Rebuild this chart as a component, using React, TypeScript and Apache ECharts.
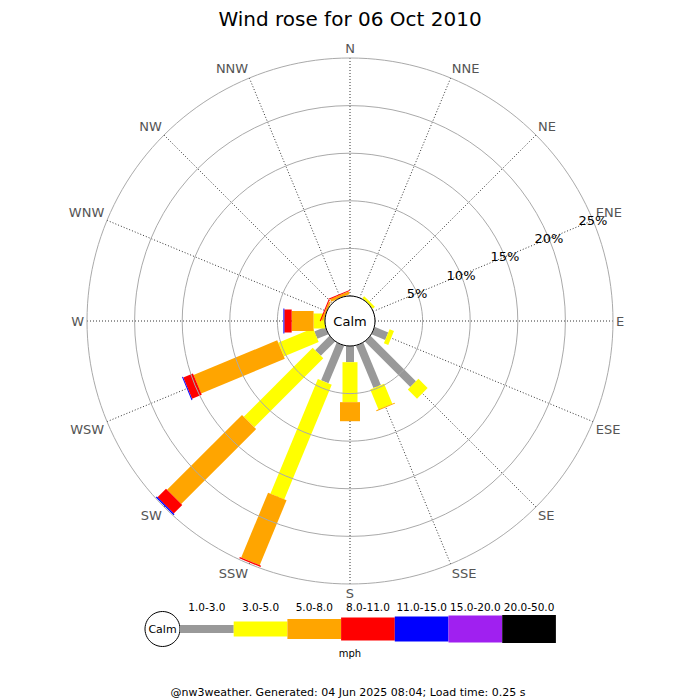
import React, { useEffect, useRef } from "react";
import * as echarts from "echarts";

const TITLE = "Wind rose for 06 Oct 2010";
const FOOTER = "@nw3weather. Generated: 04 Jun 2025 08:04; Load time: 0.25 s";
const UNIT = "mph";

// compass directions, clockwise from north
const directions = ["N", "NNE", "NE", "ENE", "E", "ESE", "SE", "SSE", "S", "SSW", "SW", "WSW", "W", "WNW", "NW", "NNW"];

// speed bins
const speedBins = ["1.0-3.0", "3.0-5.0", "5.0-8.0", "8.0-11.0", "11.0-15.0", "15.0-20.0", "20.0-50.0"];
const binColors = ["#999999", "#ffff00", "#ffa500", "#ff0000", "#0000ff", "#a020f0", "#000000"];

// percent of time per direction (order of `directions`) for each speed bin
const bin1to3 =   [0, 0, 0,    0, 0, 1.55, 6.75, 4.83, 1.7, 4.29, 2.13, 1.26, 0,    0,    0,    0];
const bin3to5 =   [0, 0, 0.28, 0, 0, 0.5,  1.37, 2.27, 4.2, 13.04, 10.24, 3.96, 1.2, 0,   0,    0];
const bin5to8 =   [0, 0, 0,    0, 0, 0,    0,    0.1,  2.0, 7.37, 11.13, 9.51, 2.3,  0.2,  0,    0.3];
const bin8to11 =  [0, 0, 0,    0, 0, 0,    0,    0,    0,   0.15, 1.26, 1.1,  0.77, 0.12, 0,    0.1];
const bin11to15 = [0, 0, 0,    0, 0, 0,    0,    0,    0,   0,    0.14, 0.1,  0.1,  0,    0,    0];
const bin15to20 = [0, 0, 0,    0, 0, 0,    0,    0,    0,   0,    0,    0,    0,    0,    0,    0];
const bin20to50 = [0, 0, 0,    0, 0, 0,    0,    0,    0,   0,    0,    0,    0,    0,    0,    0];

const radiusTicks = [0, 5, 10, 15, 20, 25];

export default function App() {
  const ref = useRef<HTMLDivElement>(null);

  useEffect(() => {
    if (!ref.current) return;
    const chart = echarts.init(ref.current, null, { renderer: "svg" });

    const bins = [bin1to3, bin3to5, bin5to8, bin8to11, bin11to15, bin15to20, bin20to50];
    const barWidths = [8, 15, 20, 23, 25, 27, 28];
    const step = 360 / directions.length;

    // the radius axis lies along ENE; angle value 0 = ENE, increasing clockwise
    const axisOrigin = directions.indexOf("ENE") * step; // compass bearing of angle value 0
    const toAngle = (di: number) => (di * step - axisOrigin + 360) % 360;
    const labelFor = (v: number) => {
      if (v >= 360) return "";
      const bearing = (v + axisOrigin) % 360;
      return directions[Math.round(bearing / step) % directions.length];
    };

    const segs: number[][] = [];
    directions.forEach((d, di) => {
      let acc = 0;
      bins.forEach((b, bi) => {
        const v = b[di];
        if (v > 0) {
          segs.push([acc, toAngle(di), acc + v, bi]);
          acc += v;
        }
      });
    });

    const cx = 350, cy = 321;
    const rMax = radiusTicks[radiusTicks.length - 1];

    const legendX0 = 180, legendStep = 53.7, legendY = 629;
    const legendGraphics: any[] = [];
    legendGraphics.push({
      type: "circle", shape: { cx: 162.5, cy: legendY, r: 17.5 },
      style: { fill: "#fff", stroke: "#000", lineWidth: 1 }, z: 100,
    });
    legendGraphics.push({
      type: "text", x: 162.5, y: legendY,
      style: { text: "Calm", fontSize: 11, fontFamily: "DejaVu Sans", fill: "#000", align: "center", verticalAlign: "middle" }, z: 101,
    });
    speedBins.forEach((lab, i) => {
      const h = barWidths[i];
      legendGraphics.push({
        type: "rect", shape: { x: legendX0 + i * legendStep, y: legendY - h / 2, width: legendStep, height: h },
        style: { fill: binColors[i] }, z: 100,
      });
      legendGraphics.push({
        type: "text", x: legendX0 + i * legendStep + legendStep / 2, y: 607,
        style: { text: lab, fontSize: 10.5, fontFamily: "DejaVu Sans", fill: "#000", align: "center", verticalAlign: "middle" }, z: 100,
      });
    });
    legendGraphics.push({
      type: "text", x: 350, y: 653,
      style: { text: UNIT, fontSize: 10, fontFamily: "DejaVu Sans", fill: "#000", align: "center", verticalAlign: "middle" }, z: 100,
    });

    chart.setOption({
      animation: false,
      backgroundColor: "#fff",
      title: {
        text: TITLE, left: "center", top: 4,
        textStyle: { fontSize: 20, fontWeight: "normal", fontFamily: "DejaVu Sans", color: "#000" },
      },
      polar: { center: [cx, cy], radius: [25, 263] },
      angleAxis: {
        type: "value",
        min: 0, max: 360, interval: step,
        startAngle: 22.5,
        clockwise: true,
        axisLine: { show: false },
        axisTick: { show: false },
        axisLabel: { show: true, margin: 3, color: "#555", fontSize: 13, fontFamily: "DejaVu Sans", formatter: (v: number) => labelFor(v) },
        splitLine: { show: false },
      },
      radiusAxis: {
        type: "value", min: 0, max: rMax, interval: 5,
        axisLine: { show: false }, axisTick: { show: false },
        axisLabel: {
          show: true, margin: 0, align: "center", verticalAlign: "middle",
          fontSize: 13, fontFamily: "DejaVu Sans", color: "#000",
          formatter: (v: number) => (v === 0 ? "" : v + "%"),
        },
        splitLine: { show: true, lineStyle: { color: "#aaaaaa", width: 1 } },
        z: 10,
      },
      series: [
        {
          // dotted spokes from the calm circle to the outer ring
          type: "custom",
          coordinateSystem: "polar",
          encode: { radius: 0, angle: 1 },
          data: directions.map((_, i) => [rMax, toAngle(i)]),
          renderItem: (params: any, api: any) => {
            const a = api.value(1);
            const p0 = api.coord([0, a]);
            const p1 = api.coord([api.value(0), a]);
            return {
              type: "line",
              shape: { x1: p0[0], y1: p0[1], x2: p1[0], y2: p1[1] },
              style: { stroke: "#333", lineWidth: 1, lineDash: [1, 2] },
            };
          },
          z: 1,
          silent: true,
        },
        {
          type: "custom",
          coordinateSystem: "polar",
          encode: { radius: 2, angle: 1 },
          data: segs,
          renderItem: (params: any, api: any) => {
            const r0 = api.value(0), a = api.value(1), r1 = api.value(2), c = api.value(3);
            const o = api.coord([0, a]);
            const f = api.coord([rMax, a]);
            const len = Math.hypot(f[0] - o[0], f[1] - o[1]);
            const ux = (f[0] - o[0]) / len, uy = (f[1] - o[1]) / len;
            const nx = -uy, ny = ux;
            const hw = barWidths[c] / 2;
            const p1 = api.coord([r0, a]);
            const p2 = api.coord([r1, a]);
            return {
              type: "polygon",
              shape: {
                points: [
                  [p1[0] + nx * hw, p1[1] + ny * hw],
                  [p2[0] + nx * hw, p2[1] + ny * hw],
                  [p2[0] - nx * hw, p2[1] - ny * hw],
                  [p1[0] - nx * hw, p1[1] - ny * hw],
                ],
              },
              style: { fill: binColors[c], stroke: null },
            };
          },
          z: 5,
        },
      ],
      graphic: [
        {
          type: "circle", shape: { cx, cy, r: 25 },
          style: { fill: "#fff", stroke: "#000", lineWidth: 1 }, z: 100,
        },
        {
          type: "text", x: cx, y: cy,
          style: { text: "Calm", fontSize: 13, fontFamily: "DejaVu Sans", fill: "#000", align: "center", verticalAlign: "middle" }, z: 101,
        },
        ...legendGraphics,
        {
          type: "text", x: 348, y: 692,
          style: { text: FOOTER, fontSize: 11, fontFamily: "DejaVu Sans", fill: "#000", align: "center", verticalAlign: "middle" }, z: 100,
        },
      ],
    });

    return () => chart.dispose();
  }, []);

  return <div ref={ref} style={{ position: "fixed", left: 0, top: 0, width: 700, height: 700 }} />;
}
